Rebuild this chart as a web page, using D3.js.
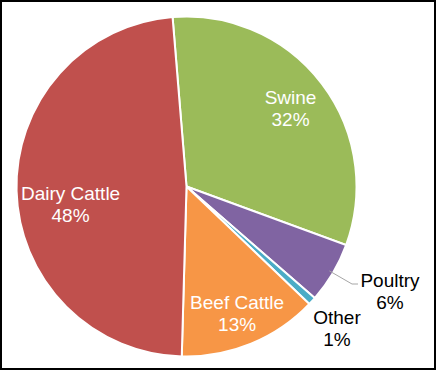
<!DOCTYPE html>
<html>
<head>
<meta charset="utf-8">
<script src="https://d3js.org/d3.v7.min.js"></script>
<style>
  html, body { margin: 0; padding: 0; background: #fff; }
</style>
</head>
<body>
<div id="pie"></div>
<script>

// data, clockwise from the top
var categories = ["Swine", "Poultry", "Other", "Beef Cattle", "Dairy Cattle"];
var shares = [31.9, 5.8, 0.75, 13.3, 48.25];
var percentLabels = ["32%", "6%", "1%", "13%", "48%"];
var colors = ["#9BBB59", "#8064A2", "#4BACC6", "#F79646", "#C0504D"];

var width = 436, height = 370;
var cx = 186.5, cy = 186.5, radius = 170;

var svg = d3.select("#pie")
  .append("svg")
    .attr("width", width)
    .attr("height", height);

// frame round the picture
svg.append("rect")
  .attr("x", 1).attr("y", 1)
  .attr("width", width - 2).attr("height", height - 2)
  .attr("fill", "#fff")
  .attr("stroke", "#000")
  .attr("stroke-width", 2);

var g = svg.append("g")
  .attr("transform", "translate(" + cx + "," + cy + ")");

var startRad = -4.7 * Math.PI / 180;
var pie = d3.pie()
  .sort(null)
  .value(function(d) { return d; })
  .startAngle(startRad)
  .endAngle(startRad + 2 * Math.PI);

var arcs = pie(shares);

var arc = d3.arc().innerRadius(0).outerRadius(radius);

g.selectAll("path.slice")
  .data(arcs)
  .enter().append("path")
    .attr("class", "slice")
    .attr("d", arc)
    .attr("fill", function(d, i) { return colors[i]; })
    .attr("stroke", "#fff")
    .attr("stroke-width", 2);

// label placement: [radius, dx, dy] for inside labels, fixed spot for outside ones
var insideLabel = {"Swine": [137, -5, 0], "Beef Cattle": [137, -1.5, -4], "Dairy Cattle": [116, 0, 10]};
var outsidePos = {"Poultry": [203.5, 100], "Other": [150.5, 137.5]};

function labelPos(d, i) {
  var name = categories[i];
  if (outsidePos[name]) return outsidePos[name];
  var p = insideLabel[name];
  var a = (d.startAngle + d.endAngle) / 2;
  return [Math.sin(a) * p[0] + p[1], -Math.cos(a) * p[0] + p[2]];
}

// leader line for Poultry
var pIdx = categories.indexOf("Poultry");
var pa = (arcs[pIdx].startAngle + arcs[pIdx].endAngle) / 2;
var p0 = [Math.sin(pa) * (radius - 4), -Math.cos(pa) * (radius - 4)];
g.append("polyline")
  .attr("points", [p0, [165.5, 97.5], [171.5, 97.5]].map(function(p) { return p.join(","); }).join(" "))
  .attr("fill", "none")
  .attr("stroke", "#a6a6a6")
  .attr("stroke-width", 1);

var labels = g.selectAll("text.lbl")
  .data(arcs)
  .enter().append("text")
    .attr("class", "lbl")
    .attr("font-family", "'Liberation Sans', Arial, sans-serif")
    .attr("font-size", "19px")
    .attr("text-anchor", "middle")
    .attr("fill", function(d, i) { return outsidePos[categories[i]] ? "#000" : "#fff"; })
    .attr("transform", function(d, i) { return "translate(" + labelPos(d, i) + ")"; });

labels.append("tspan")
  .attr("x", 0).attr("y", 0)
  .text(function(d, i) { return categories[i]; });

labels.append("tspan")
  .attr("x", 0).attr("y", 22)
  .text(function(d, i) { return percentLabels[i]; });

</script>
</body>
</html>
